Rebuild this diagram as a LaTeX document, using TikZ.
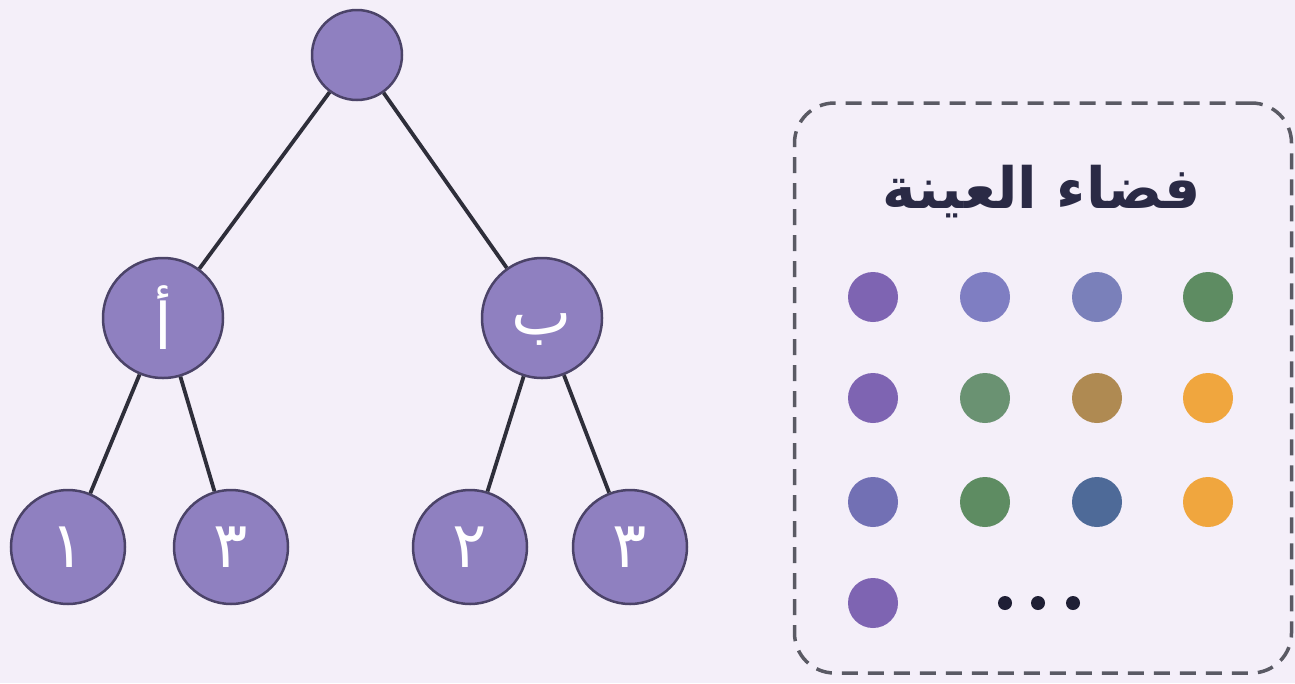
\documentclass[tikz,border=0pt]{standalone}
\usepackage{fontspec}
\newfontfamily\arabicfont[Script=Arabic]{DejaVu Sans}
\TeXXeTstate=1
\definecolor{bg}{HTML}{F4EFF9}
\definecolor{nodefill}{HTML}{8F80C0}
\definecolor{nodeline}{HTML}{4B4368}
\definecolor{edgecol}{HTML}{2E2E3A}
\definecolor{boxline}{HTML}{5A5A64}
\definecolor{titlecol}{HTML}{2A2A45}
\definecolor{cpurple}{HTML}{7E64B2}
\definecolor{clav}{HTML}{7F7EC2}
\definecolor{cblueviolet}{HTML}{7A80BA}
\definecolor{cgreen}{HTML}{5E8C62}
\definecolor{cgreenb}{HTML}{6A9272}
\definecolor{ctan}{HTML}{AF8A52}
\definecolor{corange}{HTML}{F0A63E}
\definecolor{cviolet}{HTML}{7270B4}
\definecolor{csteel}{HTML}{4E6A98}
\definecolor{cdark}{HTML}{1F1F35}
\tikzset{
  treenode/.style={circle, fill=nodefill, draw=nodeline, line width=2.5pt,
    minimum size=#1, inner sep=0pt, text=white,
    font=\arabicfont\fontsize{64}{64}\selectfont},
  treeedge/.style={draw=edgecol, line width=3.8pt},
  samplebox/.style={draw=boxline, line width=3.5pt, dash pattern=on 16pt off 10pt, rounded corners=40pt},
  sampledot/.style={circle, minimum size=50pt, inner sep=0pt, fill=#1},
  ellipsisdot/.style={circle, minimum size=14pt, inner sep=0pt, fill=cdark},
}
\begin{document}
\begin{tikzpicture}[x=1pt,y=-1pt]
\fill[bg] (0,0) rectangle (1295,683);
\useasboundingbox (0,0) rectangle (1295,683);
% tree
\node[treenode=90pt] (root) at (357,55) {};
\node[treenode=120pt] (A) at (163,318) {\beginR أ\endR};
\node[treenode=120pt, text depth=0pt] (B) at (542,318) {\raisebox{-12pt}{\beginR ب\endR}};
\node[treenode=114pt] (l1) at (68,547) {١};
\node[treenode=114pt] (l2) at (231,547) {٣};
\node[treenode=114pt] (l3) at (470,547) {٢};
\node[treenode=114pt] (l4) at (630,547) {٣};
\draw[treeedge] (root) -- (A);
\draw[treeedge] (root) -- (B);
\draw[treeedge] (A) -- (l1);
\draw[treeedge] (A) -- (l2);
\draw[treeedge] (B) -- (l3);
\draw[treeedge] (B) -- (l4);
% sample space
\node[samplebox, minimum width=497pt, minimum height=570pt, inner sep=0pt] (box) at (1043,388) {};
\node[text=titlecol, font=\arabicfont\bfseries\fontsize{57}{57}\selectfont] (title) at (1042,192) {\beginR فضاء العينة\endR};
\node[sampledot=cpurple] (d11) at (873,297) {};
\node[sampledot=clav] (d12) at (985,297) {};
\node[sampledot=cblueviolet] (d13) at (1097,297) {};
\node[sampledot=cgreen] (d14) at (1208,297) {};
\node[sampledot=cpurple] (d21) at (873,398) {};
\node[sampledot=cgreenb] (d22) at (985,398) {};
\node[sampledot=ctan] (d23) at (1097,398) {};
\node[sampledot=corange] (d24) at (1208,398) {};
\node[sampledot=cviolet] (d31) at (873,502) {};
\node[sampledot=cgreen] (d32) at (985,502) {};
\node[sampledot=csteel] (d33) at (1097,502) {};
\node[sampledot=corange] (d34) at (1208,502) {};
\node[sampledot=cpurple] (d41) at (873,603) {};
\node[ellipsisdot] (e1) at (1005,603) {};
\node[ellipsisdot] (e2) at (1038,603) {};
\node[ellipsisdot] (e3) at (1073,603) {};
\end{tikzpicture}
\end{document}
